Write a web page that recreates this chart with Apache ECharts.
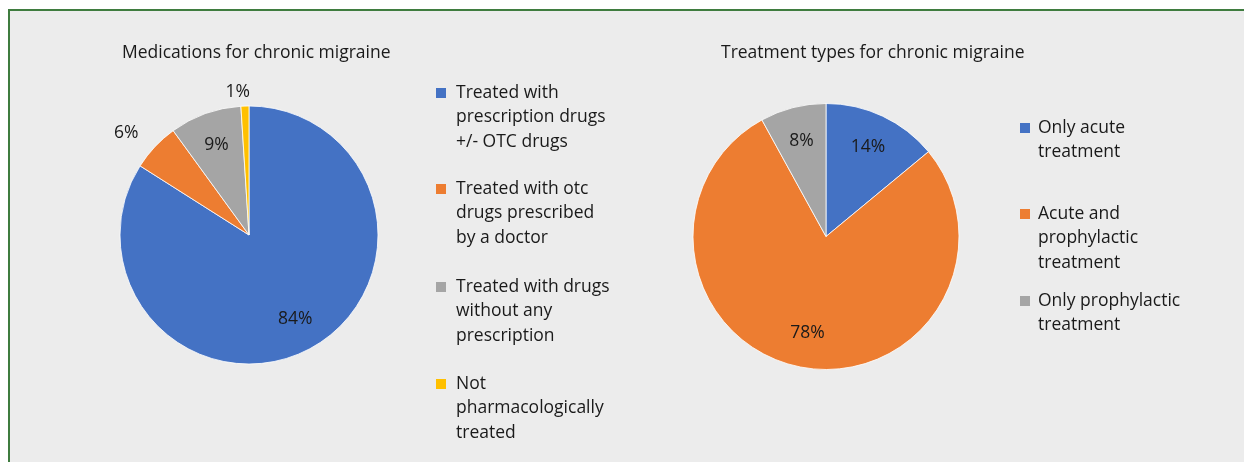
<!DOCTYPE html>
<html><head><meta charset="utf-8">
<script src="https://cdn.jsdelivr.net/npm/echarts@6/dist/echarts.min.js"></script>
<style>
html,body{margin:0;padding:0;background:#fff;width:1244px;height:462px;overflow:hidden}
#frame{position:absolute;left:8px;top:9px;width:1240px;height:460px;background:#ececec;border-left:2px solid #3f7c3f;border-top:2px solid #3f7c3f}
#chart{position:absolute;left:0;top:0;width:1244px;height:462px}
</style></head><body>
<div id="frame"></div><div id="chart"></div>
<script>
// ---- data ----
const medTitle = 'Medications for chronic migraine';
const medCategories = [
  'Treated with\nprescription drugs\n+/- OTC drugs',
  'Treated with otc\ndrugs prescribed\nby a doctor',
  'Treated with drugs\nwithout any\nprescription',
  'Not\npharmacologically\ntreated'
];
const medValues = [84, 6, 9, 1];

const treatTitle = 'Treatment types for chronic migraine';
const treatCategories = [
  'Only acute\ntreatment',
  'Acute and\nprophylactic\ntreatment',
  'Only prophylactic\ntreatment'
];
const treatValues = [14, 78, 8];

// ---- styles / layout ----
const palette = ['#4472C4', '#ED7D31', '#A5A5A5', '#FFC000'];
const FONT = 'Open Sans';
const FS = 17.5;
const LH = 24.5;
const TXT = '#1a1a1a';

const medLabelOutside = [false, true, false, true];
const medOutsideLen = [0, 20, 0, 14];
const medOutsideDist = [0, 2, 0, -5.5];
const treatLabelOutside = [false, false, false];

const pie1 = {center: [249, 235], r: 129, legendX: 436, textGap: 5, lineY: [93, 189, 287, 384], titleX: 122};
const pie2 = {center: [826, 236.5], r: 133, legendX: 1020, textGap: 3, lineY: [128, 214, 301], titleX: 721};
const INNER_RATIO = 0.72;

function mainSeries(cats, vals, outside, lens, dists, p) {
  return {
    type: 'pie', center: p.center, radius: p.r, startAngle: 90, clockwise: true,
    avoidLabelOverlap: false, silent: true, animation: false,
    emphasis: {disabled: true},
    itemStyle: {borderColor: '#ffffff', borderWidth: 0.8},
    data: vals.map((v, i) => ({
      name: cats[i], value: v,
      itemStyle: {color: palette[i]},
      label: outside[i] ? {show: true, position: 'outside', formatter: '{c}%', color: TXT,
        fontFamily: FONT, fontSize: FS, distanceToLabelLine: dists[i]} : {show: false},
      labelLine: {show: false, length: outside[i] ? lens[i] : 10, length2: 0}
    }))
  };
}
function labelSeries(cats, vals, outside, p) {
  return {
    type: 'pie', center: p.center, radius: p.r * 2 * INNER_RATIO, startAngle: 90, clockwise: true,
    avoidLabelOverlap: false, silent: true, animation: false,
    emphasis: {disabled: true},
    itemStyle: {color: 'rgba(0,0,0,0)', borderWidth: 0},
    labelLine: {show: false},
    data: vals.map((v, i) => ({
      name: cats[i], value: v,
      itemStyle: {color: 'rgba(0,0,0,0)'},
      label: !outside[i] ? {show: true, position: 'inside', formatter: '{c}%', color: TXT,
        fontFamily: FONT, fontSize: FS} : {show: false}
    }))
  };
}
function legends(cats, p) {
  return cats.map((name, i) => {
    const n = name.split('\n').length;
    return {
      data: [name], orient: 'vertical', left: p.legendX, top: p.lineY[i] - (2 * n - 1) * LH / 2,
      padding: 0, itemGap: 0, itemWidth: 10, itemHeight: 10, icon: 'rect', selectedMode: false,
      itemStyle: {borderWidth: 0},
      // leading blank lines keep the marker level with the first text line
      formatter: nm => '\n'.repeat(n - 1) + nm,
      textStyle: {fontFamily: FONT, fontSize: FS, lineHeight: LH, color: TXT, padding: [0, 0, 0, p.textGap]}
    };
  });
}

const chart = echarts.init(document.getElementById('chart'), null, {renderer: 'canvas'});
chart.setOption({
  backgroundColor: 'transparent',
  animation: false,
  title: [
    {text: medTitle, left: pie1.titleX, top: 41, padding: 0,
      textStyle: {fontFamily: FONT, fontSize: FS, fontWeight: 'normal', color: TXT, lineHeight: 24}},
    {text: treatTitle, left: pie2.titleX, top: 41, padding: 0,
      textStyle: {fontFamily: FONT, fontSize: FS, fontWeight: 'normal', color: TXT, lineHeight: 24}}
  ],
  legend: legends(medCategories, pie1).concat(legends(treatCategories, pie2)),
  series: [
    mainSeries(medCategories, medValues, medLabelOutside, medOutsideLen, medOutsideDist, pie1),
    mainSeries(treatCategories, treatValues, treatLabelOutside, [0,0,0], [0,0,0], pie2),
    labelSeries(medCategories, medValues, medLabelOutside, pie1),
    labelSeries(treatCategories, treatValues, treatLabelOutside, pie2)
  ]
});
</script></body></html>
